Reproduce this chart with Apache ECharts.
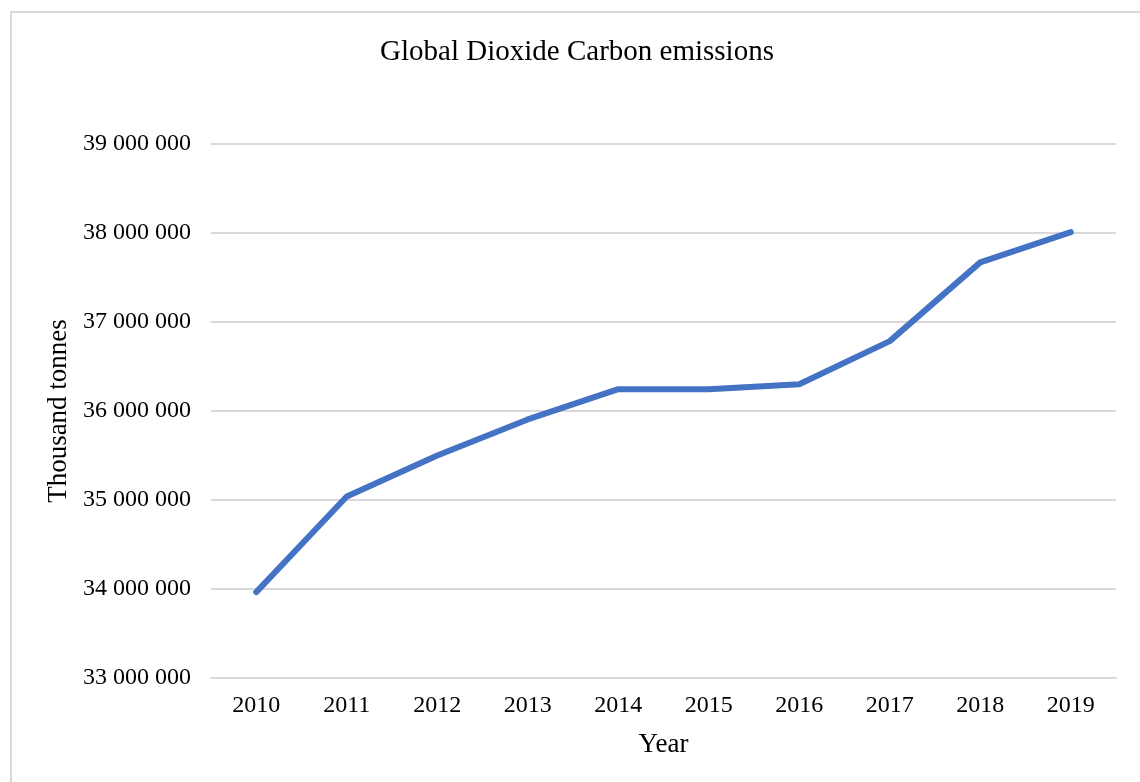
<!DOCTYPE html>
<html>
<head>
<meta charset="utf-8">
<script src="https://cdn.jsdelivr.net/npm/echarts@6/dist/echarts.min.js"></script>
<style>
html,body{margin:0;padding:0;background:#fff;overflow:hidden;}
#frame{position:absolute;left:10px;top:11px;width:1200px;height:900px;border:2px solid #d9d9d9;box-sizing:border-box;}
#chart{position:absolute;left:0;top:0;width:1140px;height:782px;}
</style>
</head>
<body>
<div id="frame"></div>
<div id="chart"></div>
<script>
const titleText = 'Global Dioxide Carbon emissions';
const years = ['2010','2011','2012','2013','2014','2015','2016','2017','2018','2019'];
const emissions = [33965000, 35040000, 35500000, 35905000, 36245000, 36245000, 36300000, 36785000, 37670000, 38010000];
const yMin = 33000000, yMax = 39000000, yStep = 1000000;
const xName = 'Year';
const yName = 'Thousand tonnes';

const fmt = v => String(v).replace(/\B(?=(\d{3})+(?!\d))/g, ' ');
const font = '"Liberation Serif", "Times New Roman", serif';

const chart = echarts.init(document.getElementById('chart'), null, {renderer:'canvas'});
chart.setOption({
  animation:false,
  backgroundColor:'transparent',
  textStyle:{fontFamily:font},
  graphic:[{
    type:'text', x:577, y:52,
    style:{text:titleText, font:'29px ' + font, fill:'#000', textAlign:'center', textVerticalAlign:'middle'}
  }],
  grid:{left:211, right:24, top:144, bottom:104, containLabel:false},
  xAxis:{
    type:'category', data:years, boundaryGap:true,
    name:xName, nameLocation:'middle', nameGap:53,
    nameTextStyle:{fontFamily:font, fontSize:27, color:'#000'},
    axisLine:{show:true, lineStyle:{color:'#d9d9d9', width:2}},
    axisTick:{show:false},
    axisLabel:{fontFamily:font, fontSize:24, color:'#000', margin:16}
  },
  yAxis:{
    type:'value', min:yMin, max:yMax, interval:yStep,
    name:yName, nameLocation:'middle', nameGap:136,
    nameTextStyle:{fontFamily:font, fontSize:27, color:'#000'},
    axisLine:{show:false}, axisTick:{show:false},
    axisLabel:{fontFamily:font, fontSize:24, color:'#000', margin:20, formatter:fmt},
    splitLine:{lineStyle:{color:'#d9d9d9', width:2}}
  },
  series:[{
    type:'line', data:emissions, showSymbol:false, symbol:'none',
    lineStyle:{color:'#4472C4', width:6, cap:'round', join:'round'},
    itemStyle:{color:'#4472C4'}
  }]
});
</script>
</body>
</html>
